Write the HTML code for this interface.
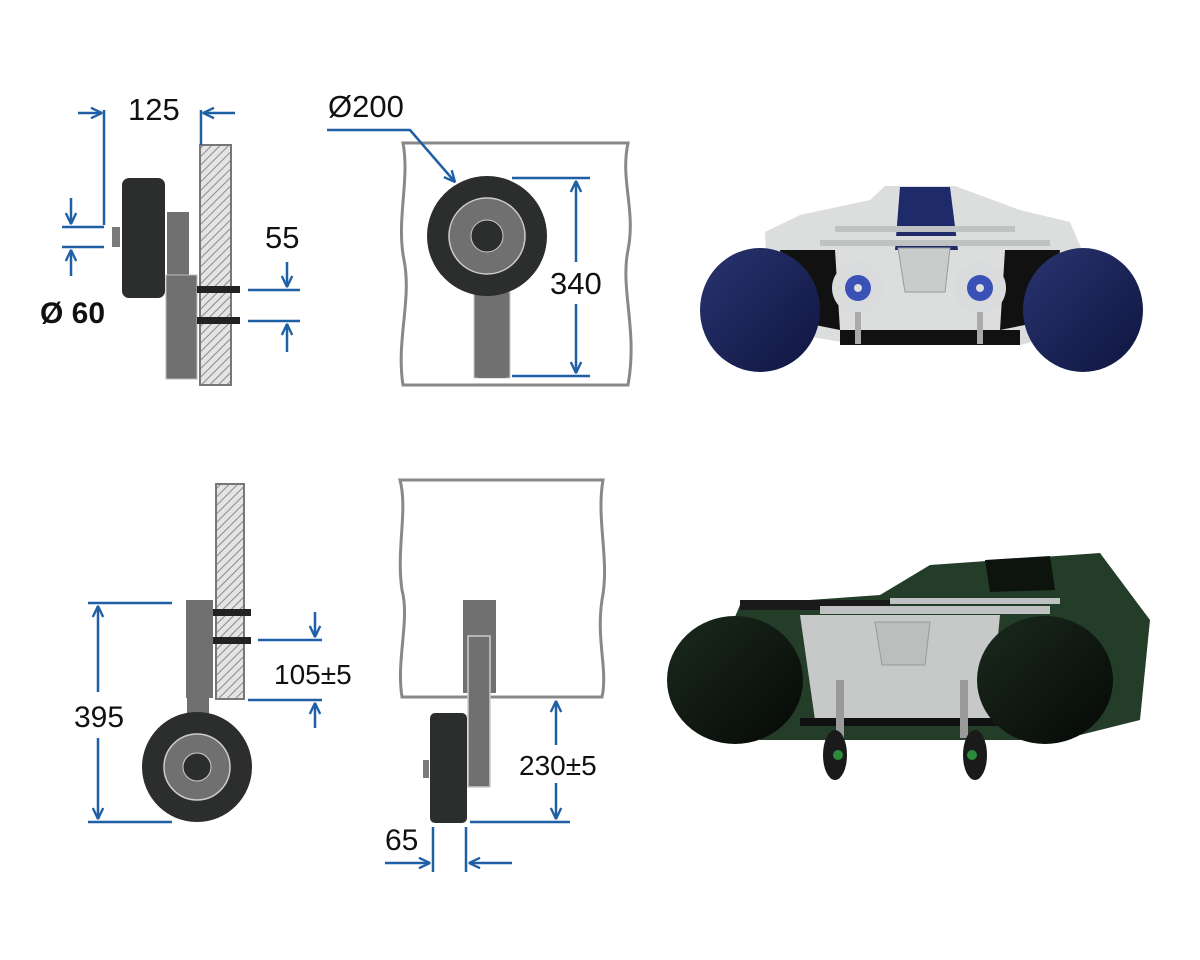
<!DOCTYPE html>
<html><head><meta charset="utf-8"><style>
html,body{margin:0;padding:0;background:#fff}
svg{display:block}
text{font-family:"Liberation Sans",Arial,sans-serif;fill:#111}
</style></head><body>
<svg width="1200" height="960" viewBox="0 0 1200 960" xmlns="http://www.w3.org/2000/svg">
<defs>
<pattern id="h" width="6" height="6" patternUnits="userSpaceOnUse" patternTransform="rotate(45)">
<rect width="6" height="6" fill="#e4e4e4"/><line x1="0" y1="0" x2="0" y2="6" stroke="#8a8a8a" stroke-width="2"/>
</pattern>
<marker id="a" viewBox="0 0 10 10" refX="9.5" refY="5" markerWidth="13" markerHeight="13" orient="auto-start-reverse" markerUnits="userSpaceOnUse">
<path d="M1,1 L9.5,5 L1,9" fill="none" stroke="#1f5fa5" stroke-width="1.8"/>
</marker>
<linearGradient id="tb" x1="0" y1="0" x2="1" y2="1"><stop offset="0" stop-color="#2a3470"/><stop offset="1" stop-color="#0e1540"/></linearGradient>
<linearGradient id="gb" x1="0" y1="0" x2="1" y2="1"><stop offset="0" stop-color="#1b2a1d"/><stop offset="1" stop-color="#050806"/></linearGradient>
</defs>

<!-- top left drawing -->
<rect x="200" y="145" width="31" height="240" fill="url(#h)" stroke="#777" stroke-width="2"/>
<rect x="122" y="178" width="43" height="120" rx="7" fill="#2b2e2d"/>
<rect x="112" y="227" width="8" height="20" fill="#7a7a7a"/>
<rect x="167" y="212" width="22" height="63" fill="#6f706f"/>
<rect x="166" y="275" width="31" height="104" fill="#6f706f" stroke="#bbb" stroke-width="1"/>
<rect x="197" y="286" width="43" height="7" fill="#222"/>
<rect x="197" y="317" width="43" height="7" fill="#222"/>
<text x="128" y="120" font-size="31">125</text>
<text x="40" y="323" font-size="30" font-weight="bold" fill="#333">Ø 60</text>
<text x="265" y="248" font-size="31">55</text>

<!-- top middle drawing -->
<path d="M403,143 L628,143 C620,180 636,210 628,250 C620,290 638,330 628,385 L403,385 C396,340 412,300 404,260 C396,220 410,180 403,143 Z" fill="#fff" stroke="#888" stroke-width="3"/>
<rect x="474" y="292" width="36" height="86" fill="#6f706f" stroke="#ccc" stroke-width="1"/>
<rect x="478" y="292" width="28" height="86" fill="#6f706f"/>
<circle cx="487" cy="236" r="60" fill="#2b2e2d"/>
<circle cx="487" cy="236" r="38" fill="#6f706f" stroke="#ccc" stroke-width="1.5"/>
<circle cx="487" cy="236" r="16" fill="#2b2e2d" stroke="#ccc" stroke-width="1"/>
<text x="328" y="117" font-size="31">Ø200</text>
<text x="550" y="294" font-size="31">340</text>

<!-- bottom left drawing -->
<rect x="216" y="484" width="28" height="215" fill="url(#h)" stroke="#777" stroke-width="2"/>
<rect x="186" y="600" width="27" height="98" fill="#6f706f"/>
<rect x="187" y="698" width="22" height="20" fill="#6f706f"/>
<rect x="213" y="609" width="38" height="7" fill="#222"/>
<rect x="213" y="637" width="38" height="7" fill="#222"/>
<circle cx="197" cy="767" r="55" fill="#2b2e2d"/>
<circle cx="197" cy="767" r="33" fill="#6f706f" stroke="#ccc" stroke-width="1.5"/>
<circle cx="197" cy="767" r="14" fill="#2b2e2d" stroke="#ccc" stroke-width="1"/>
<text x="74" y="727" font-size="30">395</text>
<text x="274" y="684" font-size="28">105±5</text>

<!-- bottom middle drawing -->
<path d="M400,480 L603,480 C596,520 610,560 602,600 C596,640 608,670 602,697 L402,697 C396,660 410,620 402,590 C396,550 408,510 400,480 Z" fill="#fff" stroke="#888" stroke-width="3"/>
<rect x="463" y="600" width="33" height="93" fill="#6f706f"/>
<rect x="468" y="636" width="22" height="151" fill="#6f706f" stroke="#ccc" stroke-width="1.5"/>
<rect x="430" y="713" width="37" height="110" rx="5" fill="#2b2e2d"/>
<rect x="423" y="760" width="6" height="18" fill="#7a7a7a"/>
<text x="519" y="775" font-size="28">230±5</text>
<text x="385" y="850" font-size="30">65</text>

<g stroke="#1f5fa5" stroke-width="2.5" fill="none">
<line x1="78" y1="113" x2="102" y2="113" marker-end="url(#a)"/>
<line x1="104" y1="110" x2="104" y2="225"/>
<line x1="235" y1="113" x2="203" y2="113" marker-end="url(#a)"/>
<line x1="201" y1="110" x2="201" y2="145"/>
<line x1="62" y1="227" x2="104" y2="227"/><line x1="62" y1="247" x2="104" y2="247"/>
<line x1="71" y1="198" x2="71" y2="224" marker-end="url(#a)"/>
<line x1="71" y1="276" x2="71" y2="250" marker-end="url(#a)"/>
<line x1="248" y1="290" x2="300" y2="290"/><line x1="248" y1="321" x2="300" y2="321"/>
<line x1="287" y1="262" x2="287" y2="287" marker-end="url(#a)"/>
<line x1="287" y1="352" x2="287" y2="324" marker-end="url(#a)"/>
<polyline points="327,130 410,130 455,182" marker-end="url(#a)"/>
<line x1="512" y1="178" x2="590" y2="178"/><line x1="512" y1="376" x2="590" y2="376"/>
<line x1="576" y1="262" x2="576" y2="181" marker-end="url(#a)"/>
<line x1="576" y1="304" x2="576" y2="373" marker-end="url(#a)"/>
<line x1="88" y1="603" x2="172" y2="603"/><line x1="88" y1="822" x2="172" y2="822"/>
<line x1="98" y1="692" x2="98" y2="606" marker-end="url(#a)"/>
<line x1="98" y1="738" x2="98" y2="819" marker-end="url(#a)"/>
<line x1="258" y1="640" x2="322" y2="640"/><line x1="248" y1="700" x2="322" y2="700"/>
<line x1="315" y1="612" x2="315" y2="637" marker-end="url(#a)"/>
<line x1="315" y1="728" x2="315" y2="703" marker-end="url(#a)"/>
<line x1="470" y1="822" x2="570" y2="822"/>
<line x1="556" y1="745" x2="556" y2="701" marker-end="url(#a)"/>
<line x1="556" y1="783" x2="556" y2="819" marker-end="url(#a)"/>
<line x1="433" y1="827" x2="433" y2="872"/><line x1="466" y1="827" x2="466" y2="872"/>
<line x1="385" y1="863" x2="430" y2="863" marker-end="url(#a)"/>
<line x1="512" y1="863" x2="469" y2="863" marker-end="url(#a)"/>
</g>

<!-- top boat -->
<g>
<path d="M765,232 L800,215 L870,200 L885,186 L955,186 L1020,210 L1070,222 L1082,250 L1080,330 L1020,345 L860,345 L770,330 Z" fill="#dcdedd"/>
<path d="M900,187 L950,187 L958,250 L895,250 Z" fill="#1e2a6a"/>
<rect x="895" y="236" width="65" height="4" fill="#dcdedd"/>
<rect x="835" y="226" width="180" height="6" fill="#bfc2c2"/>
<rect x="820" y="240" width="230" height="6" fill="#bfc2c2"/>
<path d="M898,248 L950,248 L945,292 L905,292 Z" fill="#c9cccb" stroke="#999"/>
<path d="M780,250 L835,250 L840,330 L790,320 Z" fill="#111"/>
<path d="M1060,250 L1005,250 L1000,330 L1050,320 Z" fill="#111"/>
<rect x="840" y="330" width="180" height="15" fill="#111"/>
<circle cx="858" cy="288" r="26" fill="#d9dbdc"/><circle cx="858" cy="288" r="13" fill="#3a52b8"/><circle cx="858" cy="288" r="4" fill="#ddd"/>
<circle cx="980" cy="288" r="26" fill="#d9dbdc"/><circle cx="980" cy="288" r="13" fill="#3a52b8"/><circle cx="980" cy="288" r="4" fill="#ddd"/>
<rect x="855" y="312" width="6" height="32" fill="#aaa"/><rect x="977" y="312" width="6" height="32" fill="#aaa"/>
<ellipse cx="760" cy="310" rx="60" ry="62" fill="url(#tb)"/>
<ellipse cx="1083" cy="310" rx="60" ry="62" fill="url(#tb)"/>
</g>

<!-- bottom boat -->
<g>
<path d="M740,605 L880,595 L930,565 L1100,553 L1150,620 L1140,720 L1060,740 L760,740 L700,700 Z" fill="#233d28"/>
<path d="M985,560 L1050,556 L1055,590 L990,592 Z" fill="#0c140d"/>
<rect x="740" y="600" width="150" height="10" fill="#1a1a1a"/>
<rect x="820" y="606" width="230" height="8" fill="#bfc2c2"/>
<rect x="890" y="598" width="170" height="6" fill="#bfc2c2"/>
<path d="M800,615 L1000,615 L990,720 L815,720 Z" fill="#c7c9c8"/>
<path d="M875,622 L930,622 L925,665 L882,665 Z" fill="#bcbebd" stroke="#999"/>
<rect x="800" y="718" width="200" height="8" fill="#111"/>
<rect x="836" y="680" width="8" height="58" fill="#9a9a9a"/><rect x="960" y="680" width="8" height="58" fill="#9a9a9a"/>
<ellipse cx="835" cy="755" rx="12" ry="25" fill="#1a1a1a"/><circle cx="838" cy="755" r="5" fill="#2a8a3a"/>
<ellipse cx="975" cy="755" rx="12" ry="25" fill="#1a1a1a"/><circle cx="972" cy="755" r="5" fill="#2a8a3a"/>
<ellipse cx="735" cy="680" rx="68" ry="64" fill="url(#gb)"/>
<ellipse cx="1045" cy="680" rx="68" ry="64" fill="url(#gb)"/>
</g>
</svg>
</body></html>
